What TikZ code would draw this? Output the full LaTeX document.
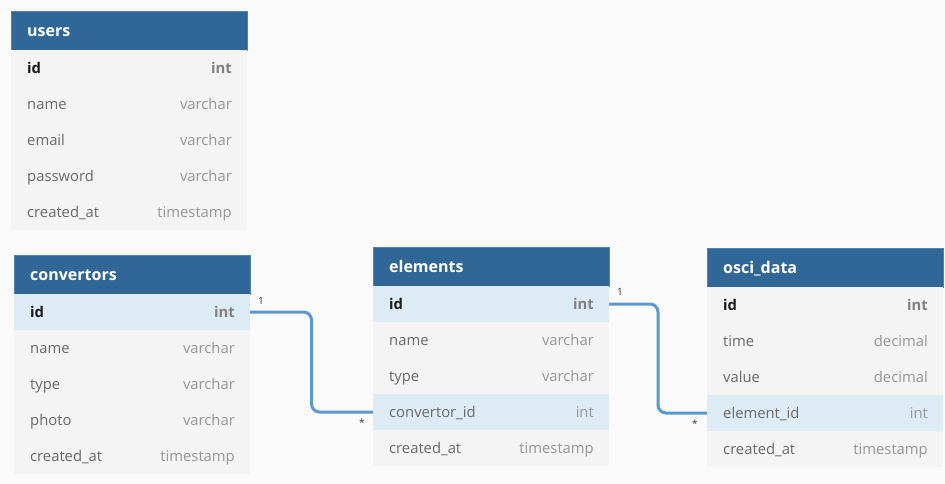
\documentclass[tikz,border=0pt]{standalone}
\usepackage{fontspec}
\setmainfont{Open Sans}
\usetikzlibrary{calc}
\definecolor{bgc}{RGB}{250,250,250}
\definecolor{hdrblue}{RGB}{49,103,150}
\definecolor{hdrline}{RGB}{80,130,175}
\definecolor{rowgray}{RGB}{244,244,244}
\definecolor{rowblue}{RGB}{221,235,245}
\definecolor{namegray}{RGB}{105,105,105}
\definecolor{typegray}{RGB}{150,150,150}
\definecolor{idblack}{RGB}{25,25,25}
\definecolor{connblue}{RGB}{90,152,206}
\definecolor{lblgray}{RGB}{50,50,50}
\tikzset{
  hdr/.style={rectangle, fill=hdrblue, draw=hdrline, line width=0.8pt, minimum width=236pt, minimum height=39pt, anchor=north west, inner sep=0pt, outer sep=0pt},
  hdrtxt/.style={anchor=west, text=white, font=\fontsize{16}{18}\selectfont\bfseries, inner sep=0pt, text height=11pt, text depth=4pt, yshift=-2.5pt},
  rowbox/.style={rectangle, fill=rowgray, minimum width=236pt, minimum height=36pt, anchor=north west, inner sep=0pt, outer sep=0pt},
  rowhl/.style={rowbox, fill=rowblue},
  fname/.style={anchor=west, text=namegray, font=\fontsize{14.8}{17}\selectfont, inner sep=0pt, text height=11pt, text depth=4pt, yshift=-2.2pt},
  ftype/.style={anchor=east, text=typegray, font=\fontsize{14.8}{17}\selectfont, inner sep=0pt, text height=11pt, text depth=4pt, yshift=-2.2pt},
  fid/.style={fname, text=idblack, font=\fontsize{14.8}{17}\selectfont\bfseries},
  fidtype/.style={ftype, text=typegray!85!black, font=\fontsize{14.8}{17}\selectfont\bfseries},
  conn/.style={draw=connblue, line width=3pt, rounded corners=8pt},
  card/.style={text=lblgray, font=\fontsize{10}{11}\selectfont, inner sep=0pt}
}
% #1 node name, #2 top-left, #3 box style, #4 name style, #5 type style, #6 field, #7 type
\newcommand{\tbrow}[7]{%
  \node[#3] (#1) at #2 {};
  \node[#4] (#1-n) at ($(#1.west)+(16,0)$) {#6};
  \node[#5] (#1-t) at ($(#1.east)+(-15,0)$) {#7};
}
\begin{document}
\begin{tikzpicture}[x=1pt, y=-1pt]
\fill[bgc] (0,0) rectangle (945,484);
\useasboundingbox (0,0) rectangle (945,484);

% users
\node[hdr] (users) at (11,11) {};
\node[hdrtxt] (users-h) at ($(users.west)+(16,0)$) {users};
\tbrow{users-id}{(11,50)}{rowbox}{fid}{fidtype}{id}{int}
\tbrow{users-name}{(11,86)}{rowbox}{fname}{ftype}{name}{varchar}
\tbrow{users-email}{(11,122)}{rowbox}{fname}{ftype}{email}{varchar}
\tbrow{users-pw}{(11,158)}{rowbox}{fname}{ftype}{password}{varchar}
\tbrow{users-ca}{(11,194)}{rowbox}{fname}{ftype}{created\_at}{timestamp}

% convertors
\node[hdr] (conv) at (14,255) {};
\node[hdrtxt] (conv-h) at ($(conv.west)+(16,0)$) {convertors};
\tbrow{conv-id}{(14,294)}{rowhl}{fid}{fidtype}{id}{int}
\tbrow{conv-name}{(14,330)}{rowbox}{fname}{ftype}{name}{varchar}
\tbrow{conv-type}{(14,366)}{rowbox}{fname}{ftype}{type}{varchar}
\tbrow{conv-photo}{(14,402)}{rowbox}{fname}{ftype}{photo}{varchar}
\tbrow{conv-ca}{(14,438)}{rowbox}{fname}{ftype}{created\_at}{timestamp}

% elements
\node[hdr] (elem) at (373,247) {};
\node[hdrtxt] (elem-h) at ($(elem.west)+(16,0)$) {elements};
\tbrow{elem-id}{(373,286)}{rowhl}{fid}{fidtype}{id}{int}
\tbrow{elem-name}{(373,322)}{rowbox}{fname}{ftype}{name}{varchar}
\tbrow{elem-type}{(373,358)}{rowbox}{fname}{ftype}{type}{varchar}
\tbrow{elem-cid}{(373,394)}{rowhl}{fname}{ftype}{convertor\_id}{int}
\tbrow{elem-ca}{(373,430)}{rowbox}{fname}{ftype}{created\_at}{timestamp}

% osci_data
\node[hdr] (osci) at (707,248) {};
\node[hdrtxt] (osci-h) at ($(osci.west)+(16,0)$) {osci\_data};
\tbrow{osci-id}{(707,287)}{rowbox}{fid}{fidtype}{id}{int}
\tbrow{osci-time}{(707,323)}{rowbox}{fname}{ftype}{time}{decimal}
\tbrow{osci-value}{(707,359)}{rowbox}{fname}{ftype}{value}{decimal}
\tbrow{osci-eid}{(707,395)}{rowhl}{fname}{ftype}{element\_id}{int}
\tbrow{osci-ca}{(707,431)}{rowbox}{fname}{ftype}{created\_at}{timestamp}

% connectors
\draw[conn] (conv-id.east) -| ($(conv-id.east)!0.5!(elem-cid.west)$) |- (elem-cid.west);
\draw[conn] (elem-id.east) -| ($(elem-id.east)!0.5!(osci-eid.west)$) |- (osci-eid.west);

% cardinality labels
\node[card] (c1a) at ($(conv-id.east)+(11,-11)$) {1};
\node[card] (c1b) at ($(elem-cid.west)+(-11,11)$) {*};
\node[card] (c2a) at ($(elem-id.east)+(11,-12)$) {1};
\node[card] (c2b) at ($(osci-eid.west)+(-12,11)$) {*};
\end{tikzpicture}
\end{document}
